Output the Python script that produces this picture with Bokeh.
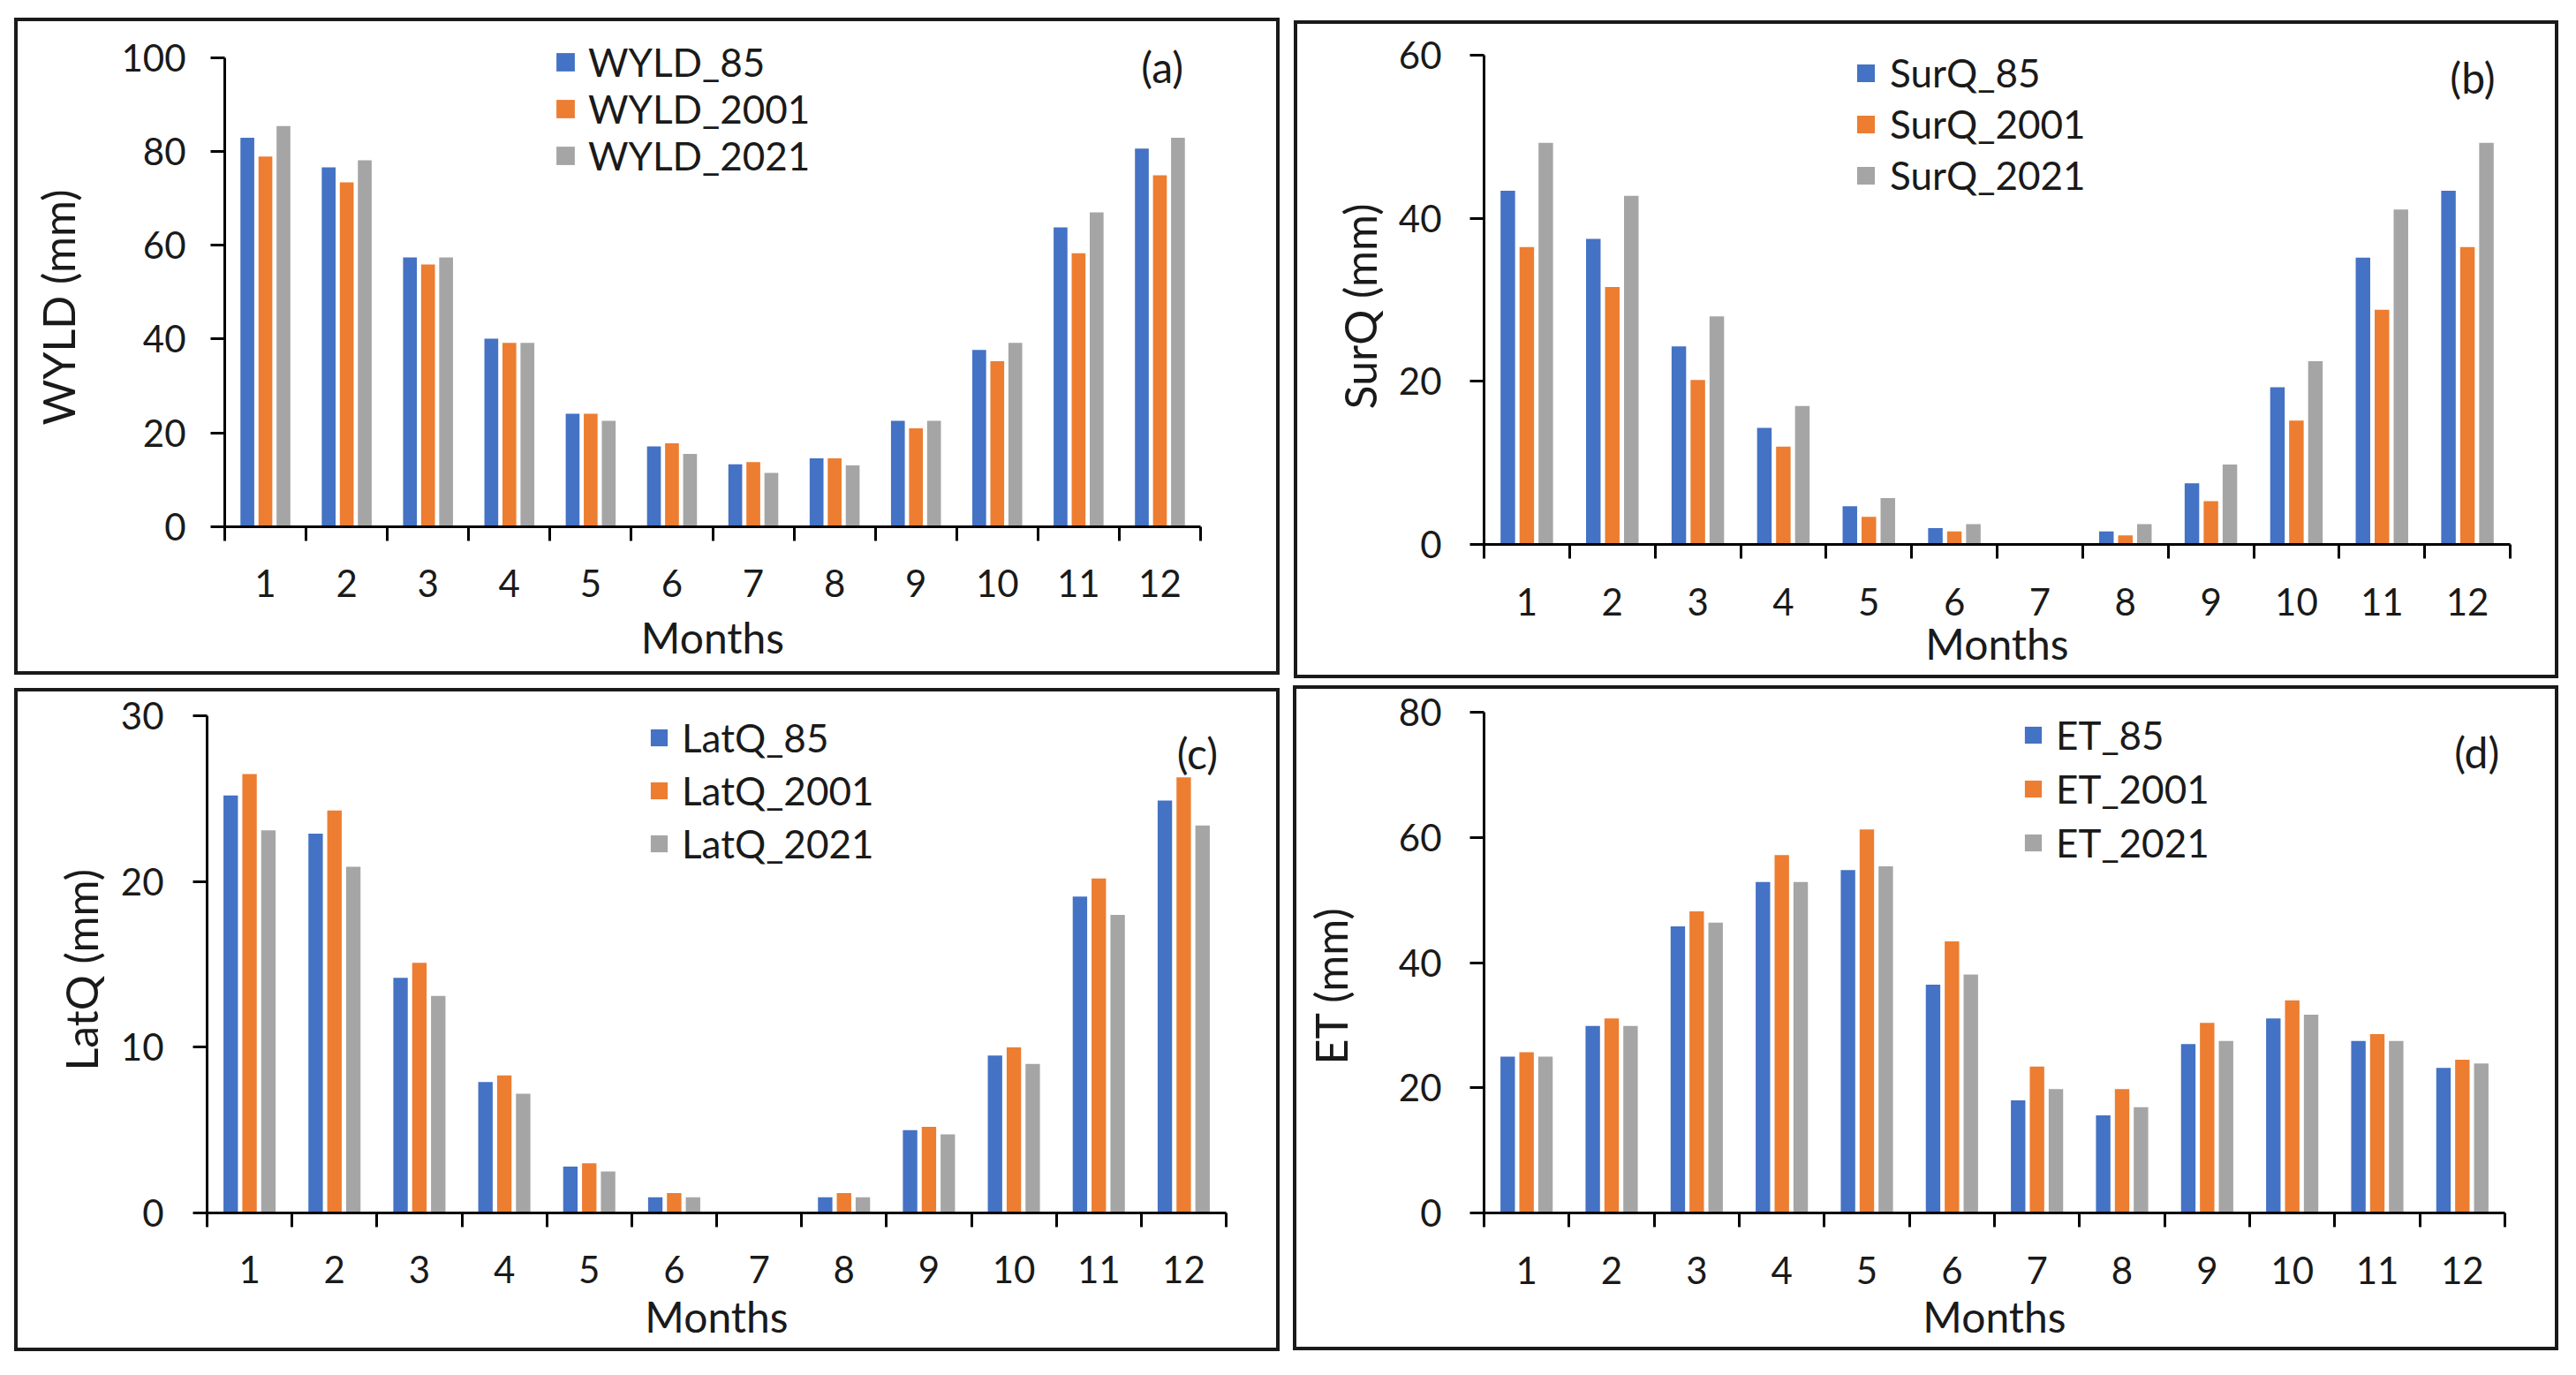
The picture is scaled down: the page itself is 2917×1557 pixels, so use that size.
import numpy as np
from bokeh.plotting import figure
from bokeh.models import (Range1d, FixedTicker, SingleIntervalTicker, Legend, LegendItem,
                          Label, LinearAxis, Title)
from bokeh.layouts import row, column
from bokeh.embed import file_html
from bokeh.resources import INLINE

# ---------------- data ----------------
months = [1, 2, 3, 4, 5, 6, 7, 8, 9, 10, 11, 12]

wyld_85 = [82.9, 76.6, 57.4, 40.1, 24.1, 17.1, 13.3, 14.6, 22.6, 37.7, 63.8, 80.6]
wyld_2001 = [78.9, 73.4, 55.9, 39.2, 24.1, 17.8, 13.8, 14.6, 21.0, 35.3, 58.3, 74.9]
wyld_2021 = [85.4, 78.1, 57.4, 39.2, 22.6, 15.5, 11.5, 13.1, 22.6, 39.2, 67.0, 82.9]

surq_85 = [43.4, 37.5, 24.3, 14.3, 4.7, 2.0, 0.0, 1.6, 7.5, 19.3, 35.2, 43.4]
surq_2001 = [36.5, 31.6, 20.2, 12.0, 3.4, 1.6, 0.0, 1.1, 5.3, 15.2, 28.8, 36.5]
surq_2021 = [49.3, 42.8, 28.0, 17.0, 5.7, 2.5, 0.0, 2.5, 9.8, 22.5, 41.1, 49.3]

latq_85 = [25.2, 22.9, 14.2, 7.9, 2.8, 0.95, 0.0, 0.95, 5.0, 9.5, 19.1, 24.9]
latq_2001 = [26.5, 24.3, 15.1, 8.3, 3.0, 1.2, 0.0, 1.2, 5.2, 10.0, 20.2, 26.3]
latq_2021 = [23.1, 20.9, 13.1, 7.2, 2.5, 0.95, 0.0, 0.95, 4.75, 9.0, 18.0, 23.4]

et_85 = [25.0, 29.9, 45.8, 52.9, 54.8, 36.5, 18.0, 15.6, 27.0, 31.1, 27.5, 23.2]
et_2001 = [25.7, 31.1, 48.2, 57.2, 61.3, 43.4, 23.4, 19.8, 30.4, 34.0, 28.6, 24.5]
et_2021 = [25.0, 29.9, 46.4, 52.9, 55.4, 38.1, 19.8, 16.9, 27.5, 31.7, 27.5, 23.9]

series_years = ["85", "2001", "2021"]
# --------------------------------------

FONT = "Lato"
TXT = "#1a1a1a"
COLORS = ["#4472C4", "#ED7D31", "#A5A5A5"]
BAR_W = 0.17
OFFS = [-0.222, 0.0, 0.222]
BW = 4            # panel border width (px)
CX, CY = 6, 8     # measured offset of the canvas inside the bordered box
TOP_PAD = 2


def make_panel(name, data, ymax, ystep, tag, tag_xy, box, frame, margin,
               y_std, ylab_gap, ylab_offset, x_std, x_lab_std,
               leg_xy, pitch, gsize, lstand):
    left, top, right, bottom = box
    f_left, f_right, ymax_px, zero_px = frame
    w = right - left - 2 * BW
    h = bottom - top - 2 * BW
    c_left = left + BW + CX
    c_top = top + BW + CY
    f_top = c_top + TOP_PAD
    y_end = ymax * (zero_px - f_top) / (zero_px - ymax_px)

    p = figure(width=w, height=h, output_backend="svg", toolbar_location=None,
               x_range=Range1d(0.5, 12.5), y_range=Range1d(0, y_end),
               min_border_left=f_left - c_left,
               min_border_right=(c_left + w) - f_right,
               min_border_top=TOP_PAD,
               min_border_bottom=(c_top + h) - zero_px,
               background_fill_color="white", border_fill_color="white",
               outline_line_color=None)
    p.frame_align = False
    p.margin = margin
    p.styles = {"border": f"{BW}px solid #1a1a1a", "box-sizing": "content-box"}
    p.grid.visible = False

    renderers = []
    for vals, off, col in zip(data, OFFS, COLORS):
        xs = np.array(months, dtype=float) + off
        r = p.vbar(x=xs, top=vals, width=BAR_W, fill_color=col, line_color=None)
        renderers.append(r)

    # x axis: labels at months, tick marks between months
    xa = p.xaxis[0]
    xa.ticker = FixedTicker(ticks=months, minor_ticks=[m - 0.5 for m in months] + [12.5])
    xa.major_tick_out = 0
    xa.major_tick_in = 0
    xa.minor_tick_out = 16
    xa.minor_tick_in = 0
    xa.minor_tick_line_color = "black"
    xa.minor_tick_line_width = 3
    xa.axis_line_color = "black"
    xa.axis_line_width = 3
    xa.major_label_text_font = FONT
    xa.major_label_text_font_size = "42px"
    xa.major_label_text_color = TXT
    xa.major_label_standoff = x_std
    xa.axis_label = "Months"
    xa.axis_label_text_font = FONT
    xa.axis_label_text_font_size = "48px"
    xa.axis_label_text_font_style = "normal"
    xa.axis_label_text_color = TXT
    xa.axis_label_standoff = x_lab_std

    # y axis (bounded to the data scale; the frame extends above for the legend)
    ya = p.yaxis[0]
    ya.bounds = (0, ymax)
    ya.ticker = SingleIntervalTicker(interval=ystep, num_minor_ticks=0)
    ya.major_tick_out = 16
    ya.major_tick_in = 0
    ya.major_tick_line_width = 3
    ya.major_tick_line_color = "black"
    ya.minor_tick_out = 0
    ya.minor_tick_in = 0
    ya.axis_line_color = "black"
    ya.axis_line_width = 3
    ya.major_label_text_font = FONT
    ya.major_label_text_font_size = "42px"
    ya.major_label_text_color = TXT
    ya.major_label_standoff = y_std

    # spacer axis: one white (invisible) tick, no label, creates the gap
    spacer = LinearAxis(ticker=FixedTicker(ticks=[0]), axis_line_color=None,
                        major_tick_out=ylab_gap, major_tick_in=0,
                        major_tick_line_color="white", major_tick_line_width=1,
                        minor_tick_out=0, minor_tick_in=0, minor_tick_line_color=None,
                        major_label_overrides={0: ""}, major_label_standoff=0,
                        major_label_text_color=None)
    p.add_layout(spacer, "left")

    # y title centred on the data part of the axis
    p.add_layout(Title(text=name + " (mm)", align="left", vertical_align="bottom",
                       offset=ylab_offset, standoff=0, text_font=FONT,
                       text_font_size="50px", text_font_style="normal",
                       text_color=TXT), "left")

    items = [LegendItem(label=f"{name}_{yr}", renderers=[r])
             for yr, r in zip(series_years, renderers)]
    leg = Legend(items=items, location=leg_xy, orientation="vertical",
                 padding=0, margin=0, spacing=0,
                 glyph_width=gsize, glyph_height=gsize, label_height=pitch,
                 label_standoff=lstand, label_text_font=FONT,
                 label_text_font_size="44px", label_text_color=TXT,
                 border_line_color=None, background_fill_alpha=0)
    p.add_layout(leg, "center")

    p.add_layout(Label(x=tag_xy[0], y=tag_xy[1], text=tag, text_align="center",
                       text_baseline="middle", text_font=FONT,
                       text_font_size="48px", text_color=TXT))
    return p


pa = make_panel("WYLD", [wyld_85, wyld_2001, wyld_2021], 100, 20, "(a)", (12.03, 98.1),
                (16, 20, 1449, 764), (260, 1357, 72, 596), (20, 0, 0, 16),
                28, 39, 115, 32, 14, (373, 394), 53, 26, 13)
pb = make_panel("SurQ", [surq_85, surq_2001, surq_2021], 60, 20, "(b)", (12.06, 57.3),
                (1465, 23, 2897, 768), (1686, 2840, 70, 616), (23, 0, 0, 16),
                32, 11, 153, 33, 0, (420, 389), 58, 25, 15)
pc = make_panel("LatQ", [latq_85, latq_2001, latq_2021], 30, 10, "(c)", (12.16, 27.8),
                (16, 779, 1449, 1530), (240, 1386, 818, 1373), (11, 0, 0, 16),
                33, 12, 161, 32, 6, (500, 388), 60, 24, 14)
pd = make_panel("ET", [et_85, et_2001, et_2021], 80, 20, "(d)", (12.17, 73.7),
                (1464, 776, 2897, 1529), (1686, 2834, 814, 1373), (8, 0, 0, 15),
                32, 44, 168, 33, 5, (610, 389), 61, 24, 14)

layout = column(row(pa, pb), row(pc, pd))

with open("out.html", "w") as f:
    f.write(file_html(layout, INLINE))
